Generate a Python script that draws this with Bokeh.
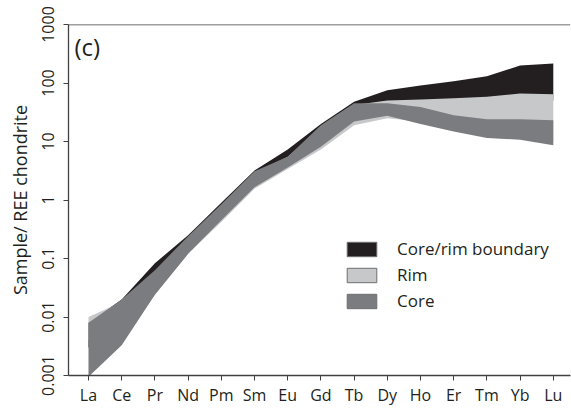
from bokeh.plotting import figure
from bokeh.models import FixedTicker, Span, Label, Legend, LegendItem, Range1d
from bokeh.embed import file_html
from bokeh.resources import INLINE

elements = ["La", "Ce", "Pr", "Nd", "Pm", "Sm", "Eu", "Gd", "Tb", "Dy", "Ho", "Er", "Tm", "Yb", "Lu"]

boundary_upper = [0.008, 0.020, 0.083, 0.25, 0.90, 3.2, 7.3, 20, 48, 75, 91, 107, 130, 199, 215]
boundary_lower = [0.003, 0.005, 0.030, 0.13, 0.45, 1.7, 3.8, 9.0, 25, 30, 35, 40, 45, 50, 50]

rim_upper = [0.010, 0.018, 0.055, 0.22, 0.80, 2.9, 5.5, 17, 42, 50, 52, 55, 58, 66, 64]
rim_lower = [0.004, 0.004, 0.024, 0.12, 0.42, 1.55, 3.4, 7.3, 19, 25, 22, 16, 13, 12, 10]

core_upper = [0.008, 0.020, 0.063, 0.24, 0.85, 3.1, 5.5, 19, 45, 45, 39, 28, 24, 24, 23]
core_lower = [0.00095, 0.0033, 0.024, 0.12, 0.45, 1.65, 3.6, 8.1, 22, 27.5, 20, 14.8, 11.5, 10.7, 8.6]

y_ticks = [0.001, 0.01, 0.1, 1, 10, 100, 1000]
y_tick_labels = ["0.001", "0.01", "0.1", "1", "10", "100", "1000"]

legend_labels = ["Core/rim boundary", "Rim", "Core"]

FONT = "Open Sans"
TXT = "#231f20"
AX = "#414042"
C_BOUND = "#231f20"
C_RIM = "#c7c8ca"
C_CORE = "#7b7c7f"
EDGE = "#6d6e71"

x = list(range(len(elements)))
nan = float("nan")

p = figure(width=571, height=408, y_axis_type="log",
           x_range=Range1d(-0.602, 14.518), y_range=Range1d(0.001, 1000),
           output_backend="svg", toolbar_location=None,
           min_border_left=68, min_border_right=1, min_border_top=24, min_border_bottom=29)
p.outline_line_color = None
p.xgrid.grid_line_color = None
p.ygrid.grid_line_color = None

p.varea(x=x, y1=boundary_lower, y2=boundary_upper, fill_color=C_BOUND)
p.varea(x=x, y1=rim_lower, y2=rim_upper, fill_color=C_RIM)
p.varea(x=x, y1=core_lower, y2=core_upper, fill_color=C_CORE)

# legend proxies (not drawn in the plot: NaN coordinates)
proxies = []
for c in (C_BOUND, C_RIM, C_CORE):
    proxies.append(p.quad(left=[nan], right=[nan], top=[nan], bottom=[nan],
                          fill_color=c, line_color=EDGE, line_width=1))
legend = Legend(items=[LegendItem(label=l, renderers=[r]) for l, r in zip(legend_labels, proxies)],
                location=(275, 63), padding=0, margin=0, spacing=3,
                glyph_width=37, glyph_height=18, label_height=18, label_standoff=17,
                label_text_font=FONT, label_text_font_size="17px", label_text_color=TXT,
                border_line_color=None, background_fill_alpha=0)
p.add_layout(legend, "center")

# axes
p.xaxis.ticker = FixedTicker(ticks=x)
p.xaxis.major_label_overrides = {i: e for i, e in enumerate(elements)}
p.yaxis.ticker = FixedTicker(ticks=y_ticks)
p.yaxis.major_label_overrides = {t: l for t, l in zip(y_ticks, y_tick_labels)}
p.yaxis.major_label_orientation = "vertical"
for ax in (p.xaxis, p.yaxis):
    ax.axis_line_color = AX
    ax.axis_line_width = 1.3
    ax.major_tick_line_color = AX
    ax.major_tick_line_width = 1
    ax.major_tick_in = 0
    ax.major_tick_out = 5
    ax.minor_tick_line_color = None
    ax.major_label_text_font = FONT
    ax.major_label_text_font_size = "16px"
    ax.major_label_text_color = TXT
p.xaxis.major_label_standoff = 3
p.yaxis.major_label_standoff = 10
p.yaxis.axis_label = "Sample/ REE chondrite"
p.yaxis.axis_label_text_font = FONT
p.yaxis.axis_label_text_font_size = "18px"
p.yaxis.axis_label_text_font_style = "normal"
p.yaxis.axis_label_text_color = TXT
p.yaxis.axis_label_standoff = 7

p.add_layout(Span(location=1000, dimension="width", line_color=AX, line_width=1.3))

p.add_layout(Label(x=-0.42, y=420, text="(c)", text_font=FONT, text_font_size="24px",
                   text_color=TXT, text_baseline="middle", text_align="left"))

open("out.html", "w").write(file_html(p, INLINE))
